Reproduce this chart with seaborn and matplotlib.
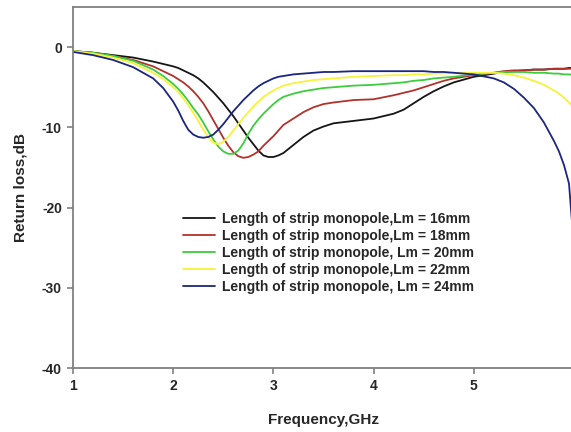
import numpy as np
import pandas as pd
import matplotlib
matplotlib.use('Agg')
import matplotlib.pyplot as plt
import seaborn as sns

freq = [1.0, 1.2, 1.4, 1.6, 1.8, 1.9,
        2.0, 2.05, 2.1, 2.15, 2.2, 2.25, 2.3, 2.35, 2.4, 2.45, 2.5, 2.55, 2.6, 2.65,
        2.7, 2.75, 2.8, 2.85, 2.9, 2.95, 3.0, 3.05, 3.1,
        3.2, 3.3, 3.4, 3.5, 3.6, 3.8, 4.0, 4.2, 4.3, 4.4, 4.5, 4.6, 4.7, 4.8,
        5.0, 5.2, 5.3, 5.4, 5.5, 5.6, 5.7, 5.8, 5.85, 5.9, 5.95, 6.0]

lm16 = [-0.5, -0.7, -1.0, -1.3, -1.8, -2.1,
        -2.4, -2.6, -2.9, -3.2, -3.5, -3.9, -4.4, -5.0, -5.6, -6.3, -7.0, -7.8, -8.6, -9.5,
        -10.4, -11.3, -12.1, -12.9, -13.5, -13.7, -13.7, -13.5, -13.2,
        -12.2, -11.2, -10.4, -9.9, -9.5, -9.2, -8.9, -8.3, -7.8, -7.0, -6.2, -5.5, -4.9, -4.4,
        -3.7, -3.3, -3.1, -3.0, -2.9, -2.8, -2.8, -2.7, -2.7, -2.7, -2.6, -2.6]
lm18 = [-0.5, -0.7, -1.1, -1.6, -2.4, -3.0,
        -3.6, -4.0, -4.4, -4.9, -5.5, -6.2, -7.0, -8.0, -9.1, -10.2, -11.3, -12.3, -13.1, -13.6,
        -13.8, -13.7, -13.4, -13.0, -12.3, -11.7, -11.1, -10.4, -9.7,
        -8.9, -8.1, -7.5, -7.1, -6.9, -6.6, -6.5, -6.0, -5.7, -5.4, -5.0, -4.6, -4.2, -3.9,
        -3.5, -3.2, -3.0, -2.9, -2.9, -2.8, -2.8, -2.7, -2.7, -2.7, -2.7, -2.7]
lm20 = [-0.5, -0.7, -1.1, -1.7, -2.8, -3.6,
        -4.6, -5.2, -5.9, -6.7, -7.6, -8.4, -9.4, -10.5, -11.5, -12.4, -13.0, -13.3, -13.3, -12.9,
        -12.0, -10.8, -9.8, -9.0, -8.3, -7.7, -7.1, -6.6, -6.2,
        -5.8, -5.5, -5.3, -5.1, -5.0, -4.8, -4.7, -4.5, -4.4, -4.2, -4.1, -3.9, -3.8, -3.7,
        -3.4, -3.2, -3.1, -3.1, -3.1, -3.2, -3.2, -3.3, -3.3, -3.4, -3.4, -3.5]
lm22 = [-0.5, -0.8, -1.3, -2.0, -3.2, -4.0,
        -5.0, -5.6, -6.4, -7.2, -8.2, -9.2, -10.3, -11.2, -11.9, -12.1, -11.8, -11.2, -10.4, -9.6,
        -8.8, -8.1, -7.4, -6.8, -6.2, -5.8, -5.4, -5.1, -4.8,
        -4.5, -4.3, -4.1, -4.0, -3.9, -3.7, -3.6, -3.5, -3.5, -3.4, -3.4, -3.3, -3.3, -3.2,
        -3.2, -3.2, -3.3, -3.5, -3.8, -4.2, -4.7, -5.4, -5.8, -6.3, -6.9, -7.6]
lm24 = [-0.6, -1.0, -1.6, -2.5, -3.9, -5.1,
        -6.8, -7.9, -9.2, -10.3, -10.9, -11.2, -11.3, -11.2, -10.9, -10.3, -9.6, -8.8, -8.0, -7.3,
        -6.6, -6.0, -5.4, -4.9, -4.5, -4.2, -3.9, -3.7, -3.6,
        -3.4, -3.3, -3.2, -3.1, -3.1, -3.0, -3.0, -3.0, -3.0, -3.0, -3.0, -3.1, -3.1, -3.2,
        -3.4, -3.9, -4.4, -5.2, -6.3, -7.6, -9.4, -11.7, -13.0, -14.7, -17.0, -25.0]

labels = ['Length of strip monopole,Lm = 16mm',
          'Length of strip monopole,Lm = 18mm',
          'Length of strip monopole, Lm = 20mm',
          'Length of strip monopole,Lm = 22mm',
          'Length of strip monopole, Lm = 24mm']
colors = ['#151515', '#b3312c', '#3ccc3c', '#f7f23a', '#1c2580']

df = pd.concat([pd.DataFrame({'Frequency': freq, 'Return loss': vals, 'Series': lab})
                for lab, vals in zip(labels, [lm16, lm18, lm20, lm22, lm24])])

sns.set_style('white')
plt.rcParams['font.family'] = ['Liberation Sans', 'DejaVu Sans']
plt.rcParams['axes.unicode_minus'] = False

fig = plt.figure(figsize=(5.71, 4.32), dpi=100)
ax = fig.add_axes([73 / 571, 64 / 432, 501 / 571, 361 / 432])

sns.lineplot(data=df, x='Frequency', y='Return loss', hue='Series', hue_order=labels,
             palette=dict(zip(labels, colors)), sort=False, linewidth=1.3, ax=ax)

ax.set_xlim(1, 6)
ax.set_ylim(-40, 5)
ax.set_xticks([1, 2, 3, 4, 5, 6])
ax.set_xticklabels(['1', '2', '3', '4', '5', ''])
ax.set_yticks([0, -10, -20, -30, -40])
ax.tick_params(axis='both', direction='out', length=4, width=1.2, color='#808080',
               labelsize=10, pad=4, bottom=True, left=True)
for lab in ax.get_xticklabels() + ax.get_yticklabels():
    lab.set_fontweight('bold')
for side in ['left', 'bottom', 'top']:
    ax.spines[side].set_color('#808080')
    ax.spines[side].set_linewidth(1.3)
ax.spines['right'].set_visible(False)

ax.set_xlabel('Frequency,GHz', fontsize=11, fontweight='bold', labelpad=14)
ax.set_ylabel('Return loss,dB', fontsize=11, fontweight='bold', labelpad=10)

handles, _ = ax.get_legend_handles_labels()
ax.legend(handles, labels, loc='upper left', bbox_to_anchor=(183 / 571, 1 - 212 / 432),
          bbox_transform=fig.transFigure, frameon=False, borderpad=0, borderaxespad=0,
          handlelength=2.3, handletextpad=0.5, labelspacing=0.22,
          prop={'weight': 'bold', 'size': 10})

fig.savefig('out.png', dpi=100)
